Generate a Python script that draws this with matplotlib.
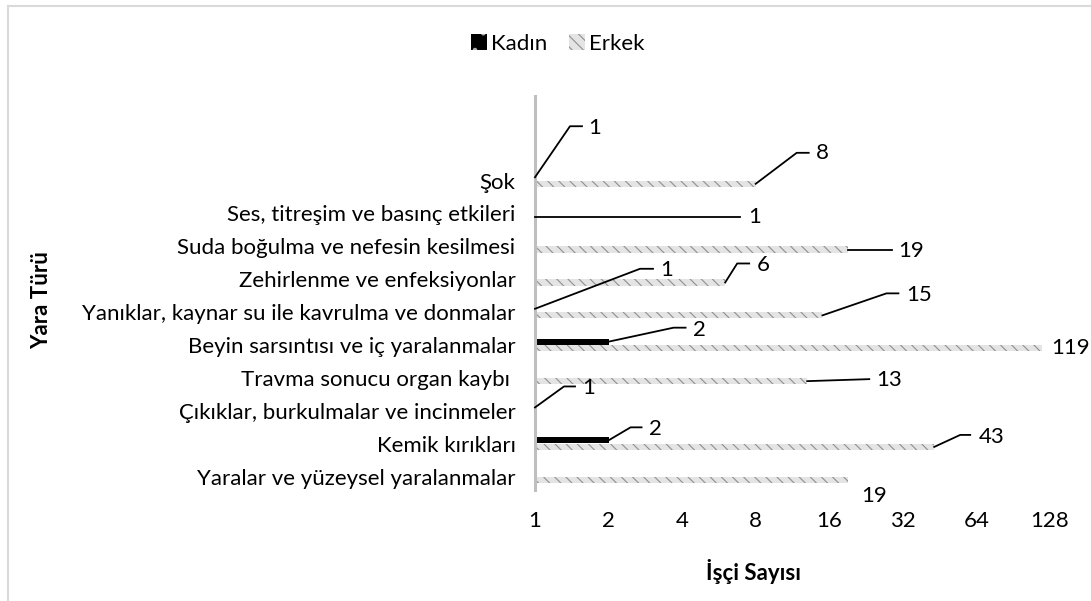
import numpy as np
import matplotlib
matplotlib.use("Agg")
import matplotlib.pyplot as plt
from matplotlib.patches import Patch
from matplotlib.lines import Line2D
from matplotlib.transforms import IdentityTransform

plt.rcParams['font.family'] = ['Lato', 'DejaVu Sans']
plt.rcParams['hatch.linewidth'] = 0.8

# categories from bottom to top
categories = ["Yaralar ve yüzeysel yaralanmalar",
              "Kemik kırıkları",
              "Çıkıklar, burkulmalar ve incinmeler",
              "Travma sonucu organ kaybı ",
              "Beyin sarsıntısı ve iç yaralanmalar",
              "Yanıklar, kaynar su ile kavrulma ve donmalar",
              "Zehirlenme ve enfeksiyonlar",
              "Suda boğulma ve nefesin kesilmesi",
              "Ses, titreşim ve basınç etkileri",
              "Şok"]
kadin = [np.nan, 2, 1, np.nan, 2, 1, np.nan, np.nan, np.nan, 1]
erkek = [19, 43, np.nan, 13, 119, 15, 6, 19, 1, 8]
xticks = [1, 2, 4, 8, 16, 32, 64, 128]

# label layout (pixels from bar end): elbow, end of horizontal piece, text centre
kadin_lbl = {9: ((35, 51), (47, 51), (60, 49)),
             5: ((105, 40), (118, 40), (132, 39)),
             4: ((65, 14), (77, 14), (91, 12)),
             2: ((29, 21), (40, 21), (54, 19)),
             1: ((22, 13), (33, 13), (47, 11))}
erkek_lbl = {9: ((41, 31), (53, 31), (67, 31)),
             8: ((205, 0), (205, 0), (220, 0)),
             7: ((44, 0), (44, 0), (64, -1)),
             6: ((12, 19), (24, 19), (38, 17)),
             5: ((64, 22), (76, 22), (97, 20)),
             4: (None, None, (28, 0)),
             3: ((62, 2), (62, 2), (82, 1)),
             1: ((26, 12), (36, 12), (57, 10)),
             0: (None, None, (27, -16))}

FS = 16

fig = plt.figure(figsize=(10.91, 6.01), dpi=100)
ax = fig.add_axes([535 / 1091, 111 / 601, 515 / 1091, 394 / 601])

y = np.arange(len(categories))
h = 0.19
k = np.array(kadin, dtype=float)
e = np.array(erkek, dtype=float)
ax.barh(y + 0.1, k - 1, left=1, height=h, color='black', edgecolor='#b0b0b0',
        hatch='.', linewidth=0)
ax.barh(y - 0.1, e - 1, left=1, height=h, color='#e4e4e4', edgecolor='#909090',
        hatch='\\' * 3, linewidth=0)

ax.set_xscale('log', base=2)
ax.set_xlim(1, 128)
ax.set_ylim(-0.41, 11.57)
ax.set_xticks(xticks)
ax.set_xticklabels([str(t) for t in xticks])
ax.minorticks_off()
ax.set_yticks(y)
ax.set_yticklabels(categories)
ax.tick_params(axis='both', length=0, labelsize=FS, colors='black')
ax.tick_params(axis='x', pad=15)
ax.tick_params(axis='y', pad=14)
for s in ['top', 'right', 'bottom']:
    ax.spines[s].set_visible(False)
ax.spines['left'].set_color('#bfbfbf')
ax.spines['left'].set_linewidth(2.2)


def add_labels(vals, offs, yy):
    for i, (elb, hend, txt) in offs.items():
        px, py = ax.transData.transform((vals[i], yy[i]))
        if elb is not None:
            fig.add_artist(Line2D([px, px + elb[0], px + hend[0]],
                                  [py, py + elb[1], py + hend[1]],
                                  transform=IdentityTransform(),
                                  color='black', lw=1.3))
        fig.text((px + txt[0]) / 1091, (py + txt[1]) / 601, '%d' % vals[i],
                 ha='center', va='center', fontsize=FS)


add_labels(k, kadin_lbl, y + 0.1)
add_labels(e, erkek_lbl, y - 0.1)

fig.text(42 / 1091, 1 - 300 / 601, 'Yara Türü', rotation=90, ha='center',
         va='center', fontsize=FS, fontweight='bold')
fig.text(753 / 1091, 1 - 572 / 601, 'İşçi Sayısı', ha='center', va='center',
         fontsize=FS, fontweight='bold')

handles = [Patch(facecolor='black', edgecolor='#b0b0b0', hatch='.', linewidth=0),
           Patch(facecolor='#e4e4e4', edgecolor='#909090', hatch='\\' * 3, linewidth=0)]
fig.legend(handles, ['Kadın', 'Erkek'], loc='center', bbox_to_anchor=(558 / 1091, 1 - 44 / 601),
           ncol=2, frameon=False, fontsize=FS, handlelength=0.7, handleheight=0.7,
           handletextpad=0.2, columnspacing=1.0)

# chart area border
fig.add_artist(Line2D([8, 1091], [595, 595], transform=IdentityTransform(), color='#d9d9d9', lw=1.5))
fig.add_artist(Line2D([8, 8], [0, 595], transform=IdentityTransform(), color='#d9d9d9', lw=1.5))

fig.savefig('out.png', dpi=100)
